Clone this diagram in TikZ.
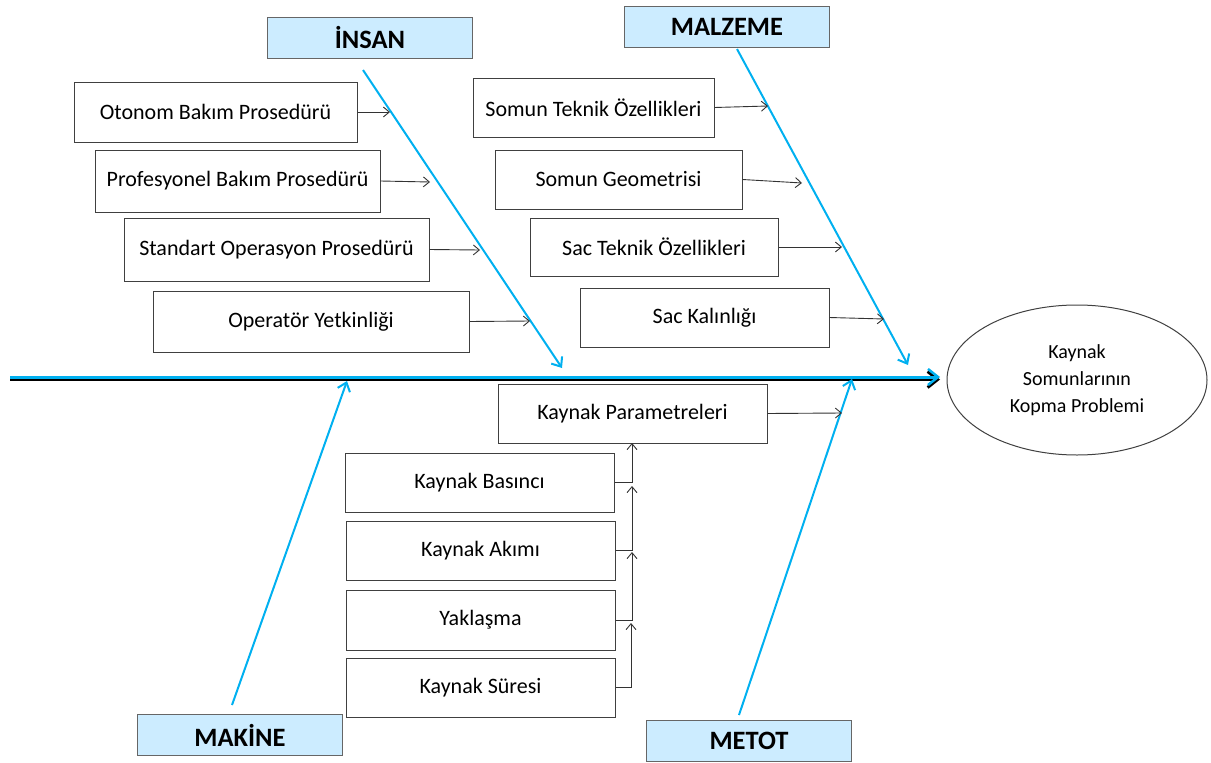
\documentclass[tikz,border=0pt]{standalone}
\usepackage{fontspec}
\setmainfont{Carlito}
\usetikzlibrary{arrows.meta,shapes.geometric}
\definecolor{bone}{RGB}{0,176,240}
\definecolor{hdrfill}{RGB}{204,236,255}
\tikzset{
  bx/.style={draw=black!75, line width=1pt, fill=white, inner sep=0pt, font=\fontsize{22}{26}\selectfont},
  hdr/.style={draw=black!60, line width=1pt, fill=hdrfill, inner sep=0pt, minimum width=205pt, minimum height=41pt, font=\bfseries\fontsize{26.5}{30}\selectfont},
  sub/.style={draw=black!80, line width=0.9pt, -{Straight Barb[length=6pt,width=10pt]}},
  bonearrow/.style={draw=bone, line width=2pt, -{Straight Barb[length=8pt,width=13pt,line width=2pt]}},
}
\begin{document}
\begin{tikzpicture}[x=1pt,y=-1pt]
\useasboundingbox (0,0) rectangle (1211,763);
% effect
\node[draw=black!75, line width=1pt, ellipse, minimum width=260pt, minimum height=150pt, align=center, font=\fontsize{20}{27}\selectfont] (eff) at (1077,380) {Kaynak\\Somunlarının\\Kopma Problemi};
% spine
\coordinate (s0) at (10,377);
\coordinate (s0b) at (10,379.5);
\coordinate (sE) at (940,377);
\coordinate (sEb) at (940,379.5);
\draw[black, line width=3pt, -{Straight Barb[length=10pt,width=16pt,line width=3pt]}] (s0b) -- (sEb);
\draw[bone, line width=3pt, -{Straight Barb[length=10pt,width=16pt,line width=2.5pt]}] (s0) -- (sE);
% headers
\node[hdr] (insan) at (370,38) {İNSAN};
\node[hdr] (malz) at (727,27) {MALZEME};
\node[hdr] (mak) at (240,735) {MAKİNE};
\node[hdr] (met) at (749,741) {METOT};
% bones
\coordinate (i0) at (363,70);  \coordinate (i1) at (562,368);
\coordinate (m0) at (737,49);  \coordinate (m1) at (908,365);
\coordinate (k0) at (232,705); \coordinate (k1) at (347,381);
\coordinate (t0) at (739,715); \coordinate (t1) at (852,379);
\draw[bonearrow] (i0) -- (i1);
\draw[bonearrow] (m0) -- (m1);
\draw[bonearrow] (k0) -- (k1);
\draw[bonearrow] (t0) -- (t1);
% İNSAN causes
\node[bx, minimum width=283pt, minimum height=60pt] (a1) at (215.5,112) {Otonom Bakım Prosedürü};
\node[bx, minimum width=285pt, minimum height=62pt] (a2) at (237.5,181) {Profesyonel Bakım Prosedürü};
\node[bx, minimum width=305pt, minimum height=63pt] (a3) at (276.5,249.5) {Standart Operasyon Prosedürü};
\node[bx, minimum width=316pt, minimum height=61pt] (a4) at (311,321.5) {Operatör Yetkinliği};
\coordinate (a1e) at (390,112);
\coordinate (a2e) at (430,182);
\coordinate (a3e) at (480,250);
\coordinate (a4e) at (530,321);
\draw[sub] (a1.east) -- (a1e);
\draw[sub] (a2.east) -- (a2e);
\draw[sub] (a3.east) -- (a3e);
\draw[sub] (a4.east) -- (a4e);
% MALZEME causes
\node[bx, minimum width=241pt, minimum height=59pt] (b1) at (593.5,107.5) {Somun Teknik Özellikleri};
\node[bx, minimum width=247pt, minimum height=59pt] (b2) at (618.5,179.5) {Somun Geometrisi};
\node[bx, minimum width=248pt, minimum height=58pt] (b3) at (654,247) {Sac Teknik Özellikleri};
\node[bx, minimum width=249pt, minimum height=59pt] (b4) at (704.5,317.5) {Sac Kalınlığı};
\coordinate (b1e) at (768,106);
\coordinate (b2e) at (802,183);
\coordinate (b3e) at (842,247);
\coordinate (b4e) at (884,319);
\draw[sub] (b1.east) -- (b1e);
\draw[sub] (b2.east) -- (b2e);
\draw[sub] (b3.east) -- (b3e);
\draw[sub] (b4.east) -- (b4e);
% METOT causes
\node[bx, minimum width=269pt, minimum height=59pt] (c0) at (632.5,413.5) {Kaynak Parametreleri};
\coordinate (c0e) at (842,413);
\draw[sub] (c0.east) -- (c0e);
\node[bx, minimum width=269pt, minimum height=59pt] (c1) at (479.5,482.5) {Kaynak Basıncı};
\node[bx, minimum width=269pt, minimum height=59pt] (c2) at (480.5,550.5) {Kaynak Akımı};
\node[bx, minimum width=269pt, minimum height=60pt] (c3) at (480.5,620) {Yaklaşma};
\node[bx, minimum width=269pt, minimum height=59pt] (c4) at (480.5,687.5) {Kaynak Süresi};
\coordinate (v1) at (632,443);
\coordinate (v2) at (632,486);
\coordinate (v3) at (632,552);
\coordinate (v4) at (631,623);
\draw[sub] (c1.east) -| (v1);
\draw[sub] (c2.east) -| (v2);
\draw[sub] (c3.east) -| (v3);
\draw[sub] (c4.east) -| (v4);
\end{tikzpicture}
\end{document}
